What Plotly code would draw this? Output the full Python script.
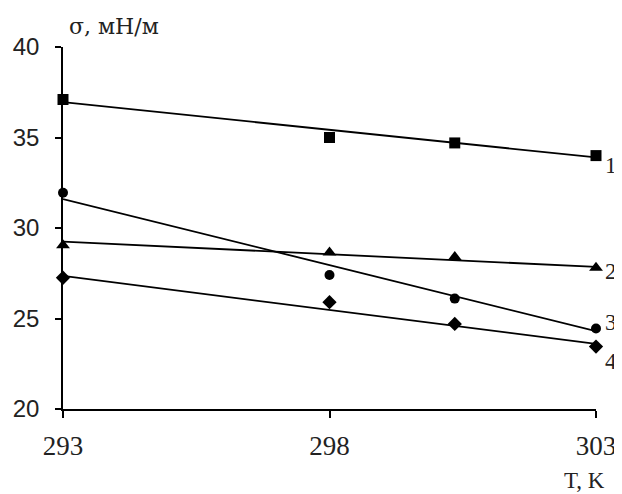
import plotly.graph_objects as go

# Data
temps = [293, 298, 300.35, 303]
sigma_1 = [37.1, 35.0, 34.7, 34.0]
sigma_2 = [29.05, 28.65, 28.4, 27.8]
sigma_3 = [31.95, 27.4, 26.1, 24.45]
sigma_4 = [27.25, 25.9, 24.7, 23.45]

# Trend line end points
fit_x = [293, 303]
fit_1 = [36.95, 33.9]
fit_2 = [29.25, 27.85]
fit_3 = [31.6, 24.3]
fit_4 = [27.35, 23.6]

curve_labels = ["1", "2", "3", "4"]
label_y = [33.45, 27.6, 24.8, 22.6]

x_ticks = [293, 298, 303]
y_ticks = [20, 25, 30, 35, 40]

series = [
    (sigma_1, fit_1, "square", 11),
    (sigma_2, fit_2, "triangle-up", 12),
    (sigma_3, fit_3, "circle", 10),
    (sigma_4, fit_4, "diamond", 11),
]

fig = go.Figure()
for vals, fit, sym, size in series:
    fig.add_trace(go.Scatter(x=fit_x, y=fit, mode="lines",
                             line=dict(color="black", width=1.8),
                             showlegend=False, hoverinfo="skip"))
    fig.add_trace(go.Scatter(x=temps, y=vals, mode="markers",
                             marker=dict(symbol=sym, size=size, color="black"),
                             showlegend=False, cliponaxis=False))

for lab, ly in zip(curve_labels, label_y):
    fig.add_annotation(x=1.028, y=ly, xref="paper", yref="y", text=lab,
                       showarrow=False, xanchor="center", yanchor="middle",
                       font=dict(family="Liberation Serif", size=23, color="#222"))

fig.add_annotation(x=0.0075, y=1.0, xref="paper", yref="paper", yanchor="middle",
                   xanchor="left", yshift=21, text="σ, мН/м", showarrow=False,
                   font=dict(family="DejaVu Serif", size=22, color="#222"))
fig.add_annotation(x=1.02, y=0, xref="paper", yref="paper", yanchor="middle",
                   xanchor="right", yshift=-71, text="T, K", showarrow=False,
                   font=dict(family="Liberation Serif", size=23, color="#222"))

# The page body has an 8px margin, so the figure is sized to fit the window.
fig.update_layout(
    width=614, height=486,
    margin=dict(l=55, r=26, t=39, b=85),
    plot_bgcolor="white", paper_bgcolor="white",
    showlegend=False,
    xaxis=dict(range=[293, 303], tickvals=x_ticks, ticktext=[str(t) for t in x_ticks],
               automargin=False,
               showgrid=False, zeroline=False, showline=True, linecolor="black",
               linewidth=1.5, ticks="outside", ticklen=7, tickwidth=1.5, tickcolor="black",
               tickfont=dict(family="Liberation Serif", size=27, color="#222"),
               ticklabelstandoff=5),
    yaxis=dict(range=[20, 40], tickvals=y_ticks, showgrid=False, zeroline=False,
               automargin=False,
               showline=True, linecolor="black", linewidth=1.5, ticks="outside",
               ticklen=6, tickwidth=1.5, tickcolor="black",
               tickfont=dict(family="Liberation Sans", size=24, color="#222"),
               ticklabelstandoff=11),
)

fig.write_html("out.html")
